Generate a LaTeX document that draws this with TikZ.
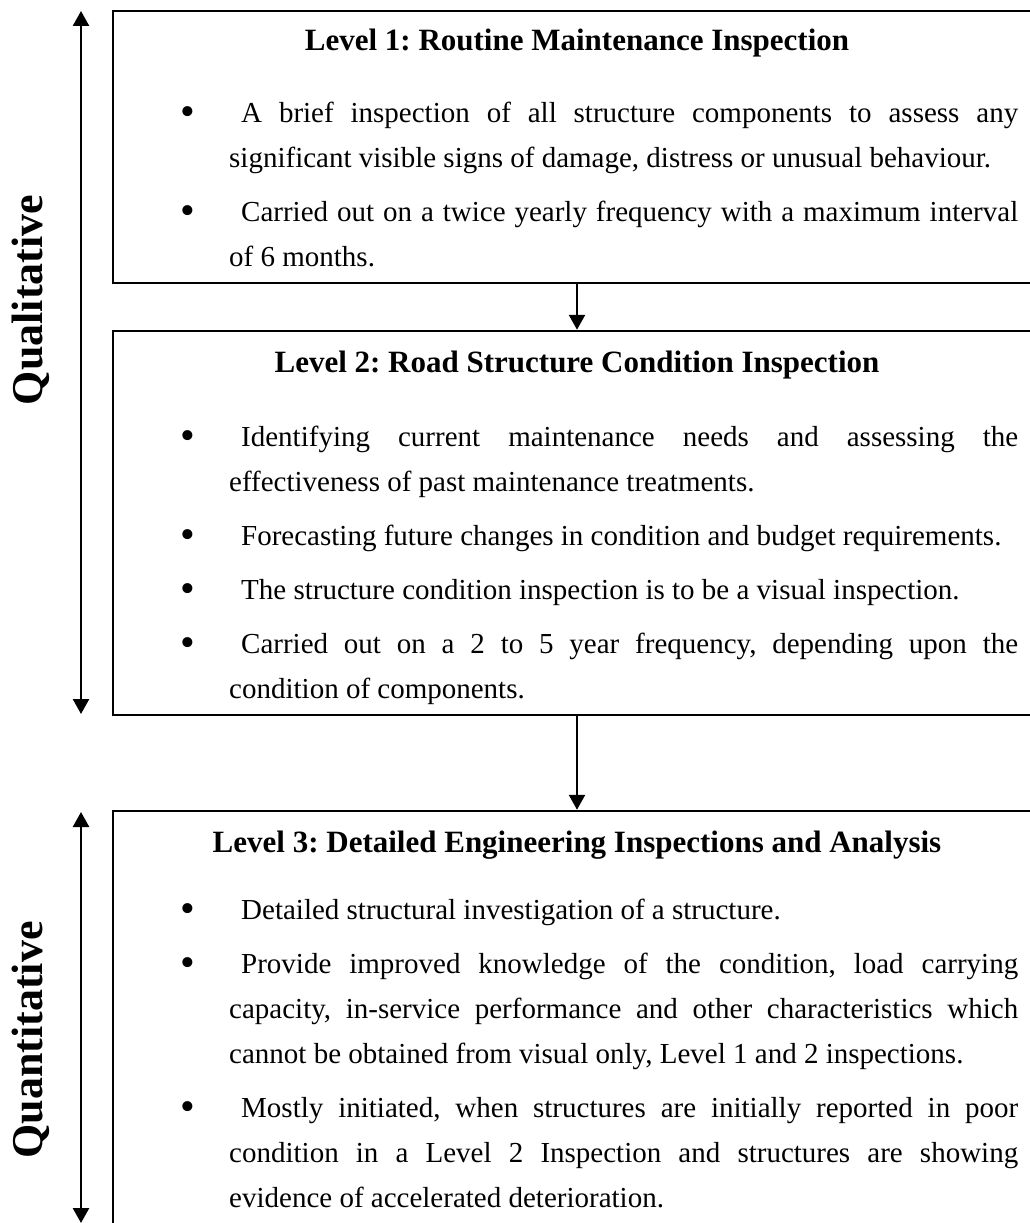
\documentclass[tikz,border=0pt]{standalone}
\usepackage{fontspec}
\setmainfont{Liberation Serif}
\usetikzlibrary{arrows.meta}
\frenchspacing
\newcommand{\bodyfont}{\fontsize{29}{45}\selectfont\frenchspacing}
\newcommand{\bul}{\noindent\llap{\raisebox{-3pt}{\fontsize{42}{42}\selectfont\textbullet}\hspace{33.6pt}}\hspace*{12pt}}
\begin{document}
\begin{tikzpicture}[x=1pt,y=-1pt,
  box/.style={draw, line width=2.5pt, minimum width=928pt, inner sep=0pt},
  conn/.style={line width=2.5pt, -{Triangle[length=15pt,width=16pt]}},
  dbl/.style={line width=2.5pt, {Triangle[length=15pt,width=16pt]}-{Triangle[length=15pt,width=16pt]}},
  ttl/.style={anchor=base, inner sep=0pt, font=\fontsize{31}{37}\selectfont\bfseries\frenchspacing},
  para/.style={anchor=base west, inner sep=0pt},
  side/.style={rotate=90, inner sep=0pt, font=\fontsize{44}{50}\selectfont\bfseries}]
\useasboundingbox (0,0) rectangle (1030,1223);
\clip (0,0) rectangle (1030,1223);
% boxes
\node[box, minimum height=272pt] (b1) at (577,147) {};
\node[box, minimum height=384pt] (b2) at (577,523) {};
\node[box, minimum height=439pt] (b3) at (577,1030.5) {};
% connectors
\draw[conn] (b1.south) -- (b2.north);
\draw[conn] (b2.south) -- (b3.north);
% side arrows
\coordinate (qlt) at (81,11);
\coordinate (qlb) at (81,714);
\coordinate (qnt) at (81,812);
\coordinate (qnb) at (81,1223);
\draw[dbl] (qlb) -- (qlt);
\draw[dbl] (qnb) -- (qnt);
\node[side] (lq1) at (31,300) {Qualitative};
\node[side] (lq2) at (31,1040) {Quantitative};
% box 1
\node[ttl] (t1) at (577,51) {Level 1: Routine Maintenance Inspection};
\node[para] (p11) at (229,122) {\parbox[t]{789pt}{\bodyfont\bul A brief inspection of all structure components to assess any\linebreak significant visible signs of damage, distress or unusual behaviour.}};
\node[para] (p12) at (229,221) {\parbox[t]{789pt}{\bodyfont\bul Carried out on a twice yearly frequency with a maximum interval\linebreak of 6 months.}};
% box 2
\node[ttl] (t2) at (577,372) {Level 2: Road Structure Condition Inspection};
\node[para] (p21) at (229,446) {\parbox[t]{789pt}{\bodyfont\bul Identifying current maintenance needs and assessing the\linebreak effectiveness of past maintenance treatments.}};
\node[para] (p22) at (229,545) {\parbox[t]{789pt}{\bodyfont\bul Forecasting future changes in condition and budget requirements.}};
\node[para] (p23) at (229,599) {\parbox[t]{789pt}{\bodyfont\bul The structure condition inspection is to be a visual inspection.}};
\node[para] (p24) at (229,653) {\parbox[t]{789pt}{\bodyfont\bul Carried out on a 2 to 5 year frequency, depending upon the\linebreak condition of components.}};
% box 3
\node[ttl] (t3) at (577,852) {Level 3: Detailed Engineering Inspections and Analysis};
\node[para] (p31) at (229,919) {\parbox[t]{789pt}{\bodyfont\bul Detailed structural investigation of a structure.}};
\node[para] (p32) at (229,973) {\parbox[t]{789pt}{\bodyfont\bul Provide improved knowledge of the condition, load carrying\linebreak capacity, in-service performance and other characteristics which\linebreak cannot be obtained from visual only, Level 1 and 2 inspections.}};
\node[para] (p33) at (229,1117) {\parbox[t]{789pt}{\bodyfont\bul Mostly initiated, when structures are initially reported in poor\linebreak condition in a Level 2 Inspection and structures are showing\linebreak evidence of accelerated deterioration.}};
\end{tikzpicture}
\end{document}
